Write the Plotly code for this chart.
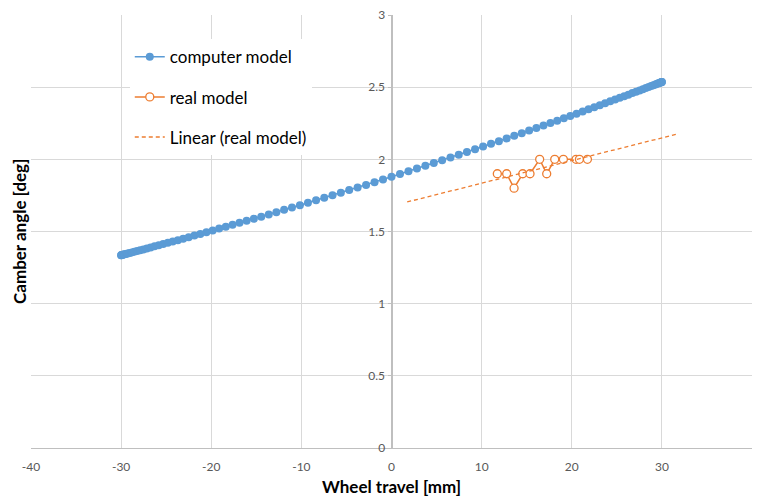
import numpy as np
import plotly.graph_objects as go

# computer model: wheel travel [mm]
comp_x = [-30.0, -29.985, -29.941, -29.867, -29.763, -29.631, -29.469, -29.278, -29.057, -28.809,
          -28.532, -28.226, -27.893, -27.533, -27.145, -26.73, -26.289, -25.822, -25.33, -24.812,
          -24.271, -23.705, -23.115, -22.503, -21.869, -21.213, -20.536, -19.839, -19.123, -18.387,
          -17.634, -16.862, -16.075, -15.271, -14.453, -13.62, -12.773, -11.914, -11.044, -10.162,
          -9.271, -8.37, -7.461, -6.544, -5.621, -4.693, -3.76, -2.823, -1.884, -0.942,
          0.0,
          0.942, 1.884, 2.823, 3.76, 4.693, 5.621, 6.544, 7.461, 8.37, 9.271,
          10.162, 11.044, 11.914, 12.773, 13.62, 14.453, 15.271, 16.075, 16.862, 17.634,
          18.387, 19.123, 19.839, 20.536, 21.213, 21.869, 22.503, 23.115, 23.705, 24.271,
          24.812, 25.33, 25.822, 26.289, 26.73, 27.145, 27.533, 27.893, 28.226, 28.532,
          28.809, 29.057, 29.278, 29.469, 29.631, 29.763, 29.867, 29.941, 29.985, 30.0]
# computer model: camber angle [deg]
comp_y = [1.336, 1.336, 1.337, 1.338, 1.340, 1.342, 1.344, 1.347, 1.351, 1.355,
          1.360, 1.365, 1.370, 1.376, 1.383, 1.389, 1.397, 1.405, 1.413, 1.422,
          1.431, 1.440, 1.450, 1.461, 1.472, 1.483, 1.495, 1.507, 1.520, 1.533,
          1.546, 1.560, 1.574, 1.588, 1.603, 1.618, 1.634, 1.650, 1.666, 1.682,
          1.699, 1.716, 1.733, 1.751, 1.769, 1.787, 1.805, 1.823, 1.842, 1.860,
          1.879,
          1.898, 1.917, 1.936, 1.955, 1.974, 1.993, 2.013, 2.032, 2.051, 2.070,
          2.089, 2.108, 2.126, 2.145, 2.163, 2.181, 2.199, 2.217, 2.234, 2.251,
          2.268, 2.285, 2.301, 2.316, 2.332, 2.347, 2.361, 2.375, 2.389, 2.402,
          2.414, 2.426, 2.437, 2.448, 2.459, 2.468, 2.477, 2.486, 2.494, 2.501,
          2.508, 2.513, 2.519, 2.523, 2.527, 2.530, 2.533, 2.534, 2.535, 2.536]

# real model measurements
real_x = [11.74, 12.78, 13.6, 14.56, 15.37, 16.44, 17.22, 18.11, 19.07, 20.48, 20.85, 21.74]
real_y = [1.9, 1.9, 1.8, 1.9, 1.9, 2.0, 1.9, 2.0, 2.0, 2.0, 2.0, 2.0]

# linear trendline of the real model (forecast 10 mm backward and forward)
trend_forecast = 10.0
slope, intercept = np.polyfit(real_x, real_y, 1)
trend_x = [min(real_x) - trend_forecast, max(real_x) + trend_forecast]
trend_y = [slope * v + intercept for v in trend_x]

x_ticks = [-40, -30, -20, -10, 0, 10, 20, 30, 40]
x_tick_labels = ["-40", "-30", "-20", "-10", "0", "10", "20", "30", "40"]
y_ticks = [0, 0.5, 1, 1.5, 2, 2.5, 3]
y_tick_labels = ["0", "0.5", "1", "1.5", "2", "2.5", "3"]

BLUE = "#5B9BD5"
ORANGE = "#ED7D31"
FONT = "Lato"

fig = go.Figure()
fig.add_trace(go.Scatter(
    x=comp_x, y=comp_y, mode="lines+markers", name="computer model",
    line=dict(color=BLUE, width=1.5),
    marker=dict(color=BLUE, size=8, line=dict(width=0)),
    legendgroup="a"))
fig.add_trace(go.Scatter(
    x=real_x, y=real_y, mode="lines+markers", name="real model",
    line=dict(color=ORANGE, width=1.5),
    marker=dict(color="white", size=8, symbol="circle", line=dict(color=ORANGE, width=1.3)),
    legendgroup="b"))
fig.add_trace(go.Scatter(
    x=trend_x, y=trend_y, mode="lines", name="Linear (real model)",
    line=dict(color=ORANGE, width=1.3, dash="4px,3px"),
    legendgroup="c"))

fig.update_layout(
    width=758, height=497,
    margin=dict(l=31, r=6, t=15, b=49, autoexpand=False),
    paper_bgcolor="white", plot_bgcolor="white",
    font=dict(family=FONT, color="#595959"),
    showlegend=True,
    legend=dict(
        x=0.137, y=0.944, xanchor="left", yanchor="top",
        bgcolor="white", borderwidth=0,
        font=dict(family=FONT, size=17, color="#000000"),
        traceorder="grouped", tracegroupgap=15,
        itemwidth=30),
    xaxis=dict(
        range=[-40, 40], tickvals=x_ticks, ticktext=x_tick_labels,
        automargin=False,
        showgrid=True, gridcolor="#D9D9D9", gridwidth=1,
        zeroline=True, zerolinecolor="#BFBFBF", zerolinewidth=1.5,
        showline=True, linecolor="#BFBFBF", linewidth=1,
        ticks="", tickfont=dict(family=FONT, size=12, color="#595959"),
        ticklabelstandoff=8,
        fixedrange=True),
    yaxis=dict(
        range=[0, 3], tickvals=y_ticks, ticktext=y_tick_labels,
        anchor="free", position=0.5, automargin=False,
        showgrid=True, gridcolor="#D9D9D9", gridwidth=1,
        zeroline=False, showline=False,
        ticks="outside", ticklen=4, tickcolor="#BFBFBF",
        tickfont=dict(family=FONT, size=12, color="#595959"),
        fixedrange=True),
    annotations=[
        dict(text="<b>Camber angle [deg]</b>", textangle=-90,
             xref="paper", yref="paper", x=-0.016, y=0.5,
             xanchor="center", yanchor="middle", showarrow=False,
             font=dict(family=FONT, size=17, color="#000000")),
        dict(text="<b>Wheel travel [mm]</b>",
             xref="paper", yref="paper", x=0.5, y=-0.088,
             xanchor="center", yanchor="middle", showarrow=False,
             font=dict(family=FONT, size=17, color="#000000")),
    ],
)

fig.write_html(
    "out.html",
    config={"displayModeBar": False},
    post_script="document.body.style.margin='0';document.body.style.padding='0';",
)
